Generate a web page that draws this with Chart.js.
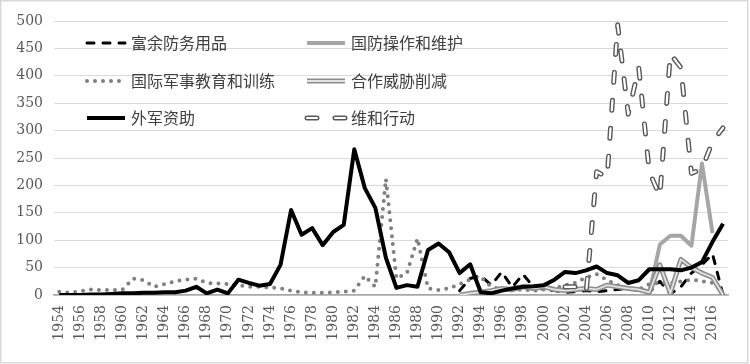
<!DOCTYPE html>
<html>
<head>
<meta charset="utf-8">
<script src="https://cdn.jsdelivr.net/npm/chart.js@4.4.1/dist/chart.umd.min.js"></script>
<style>
	html, body { margin: 0; padding: 0; background: #ffffff; }
	#wrap { width: 750px; height: 364px; }
</style>
</head>
<body>
<div id="wrap"><canvas id="aidChart" width="750" height="364"></canvas></div>
<script>
	// 年份 (x 轴类别)
	const years = [
		'1954','1955','1956','1957','1958','1959','1960','1961','1962','1963',
		'1964','1965','1966','1967','1968','1969','1970','1971','1972','1973',
		'1974','1975','1976','1977','1978','1979','1980','1981','1982','1983',
		'1984','1985','1986','1987','1988','1989','1990','1991','1992','1993',
		'1994','1995','1996','1997','1998','1999','2000','2001','2002','2003',
		'2004','2005','2006','2007','2008','2009','2010','2011','2012','2013',
		'2014','2015','2016','2017'
	];

	// 富余防务用品
	const edaValues = [
		null,null,null,null,null,null,null,null,null,null,
		null,null,null,null,null,null,null,null,null,null,
		null,null,null,null,null,null,null,null,null,null,
		null,null,null,null,null,null,null,null,8,30,
		35,18,42,14,38,15,10,8,5,6,
		8,6,8,10,12,8,5,25,2,15,
		40,55,75,0
	];

	// 国防操作和维护
	const omValues = [
		null,null,null,null,null,null,null,null,null,null,
		null,null,null,null,null,null,null,null,null,null,
		null,null,null,null,null,null,null,null,null,null,
		null,null,null,null,null,null,null,null,null,null,
		null,null,null,null,null,null,null,null,null,null,
		null,null,null,null,null,null,3,92,108,108,
		90,240,113,null
	];

	// 国际军事教育和训练
	const imetValues = [
		6,4,7,10,9,9,10,30,27,15,
		20,25,28,30,22,21,20,18,15,15,
		14,12,8,5,4,4,5,6,8,35,
		15,212,30,40,103,12,9,12,20,28,
		33,15,10,8,10,8,10,12,18,22,
		32,38,27,18,12,10,20,22,22,25,
		28,25,22,5
	];

	// 合作威胁削减
	const ctrValues = [
		null,null,null,null,null,null,null,null,null,null,
		null,null,null,null,null,null,null,null,null,null,
		null,null,null,null,null,null,null,null,null,null,
		null,null,null,null,null,null,null,null,0,3,
		5,8,12,10,15,12,15,10,8,10,
		12,10,18,15,12,10,5,55,3,65,
		50,40,32,0
	];

	// 外军资助
	const fmfValues = [
		0,0,0,1,1,2,3,3,4,4,
		5,5,8,15,3,10,3,28,22,17,
		20,55,155,110,122,91,115,128,266,195,
		159,68,13,18,15,82,94,78,40,56,
		5,3,8,12,15,16,18,28,42,40,
		45,52,40,36,22,27,47,47,47,45,
		50,60,97,130
	];

	// 维和行动
	const pkoValues = [
		null,null,null,null,null,null,null,null,null,null,
		null,null,null,null,null,null,null,null,null,null,
		null,null,null,null,null,null,null,null,null,null,
		null,null,null,null,null,null,null,null,null,null,
		null,null,null,null,null,null,null,null,15,15,
		3,225,215,493,330,415,225,180,440,415,
		222,230,280,305
	];

	// 线条样式
	const styles = {
		eda:  { color: '#000000', width: 3, dash: [7, 9], cap: 'round' },
		om:   { color: '#a6a6a6', width: 4, dash: [], cap: 'butt' },
		imet: { color: '#808080', width: 4, dash: [0, 8], cap: 'round' },
		ctr:  { color: '#8c8c8c', width: 5, dash: [], cap: 'butt', inner: { color: '#e2e2e2', width: 1.8 } },
		fmf:  { color: '#000000', width: 4, dash: [], cap: 'butt' },
		pko:  { color: '#595959', width: 5, dash: [10, 18], cap: 'round', inner: { color: '#ffffff', width: 2.2 } }
	};

	// 图例 (3 行 2 列, 在绘图区内)
	const legendItems = [
		{ text: '富余防务用品',       style: styles.eda,  col: 0, row: 0 },
		{ text: '国防操作和维护',     style: styles.om,   col: 1, row: 0 },
		{ text: '国际军事教育和训练', style: styles.imet, col: 0, row: 1 },
		{ text: '合作威胁削减',       style: styles.ctr,  col: 1, row: 1 },
		{ text: '外军资助',           style: styles.fmf,  col: 0, row: 2 },
		{ text: '维和行动',           style: styles.pko,  col: 1, row: 2 }
	];

	// 数据集生成
	function makeDataset(label, data, st, order, inner) {
		return {
			label: label,
			data: data,
			borderColor: inner ? st.inner.color : st.color,
			borderWidth: inner ? st.inner.width : st.width,
			borderDash: st.dash,
			borderCapStyle: st.cap,
			borderJoinStyle: 'round',
			pointRadius: 0,
			pointHoverRadius: 0,
			tension: 0,
			fill: false,
			spanGaps: false,
			order: order
		};
	}

	let datasets = [
		makeDataset('富余防务用品', edaValues, styles.eda, 6),
		makeDataset('国防操作和维护', omValues, styles.om, 5),
		makeDataset('国际军事教育和训练', imetValues, styles.imet, 4),
		makeDataset('合作威胁削减', ctrValues, styles.ctr, 3),
		makeDataset('合作威胁削减-内', ctrValues, styles.ctr, 2.9, true),
		makeDataset('外军资助', fmfValues, styles.fmf, 2),
		makeDataset('维和行动', pkoValues, styles.pko, 1),
		makeDataset('维和行动-内', pkoValues, styles.pko, 0.9, true)
	];

	// 图例样本线
	function drawSample(ctx, x1, x2, y, st) {
		ctx.save();
		ctx.beginPath();
		ctx.moveTo(x1, y);
		ctx.lineTo(x2, y);
		ctx.strokeStyle = st.color;
		ctx.lineWidth = st.width;
		ctx.lineCap = st.cap;
		ctx.setLineDash(st.dash);
		ctx.stroke();
		if (st.inner) {
			ctx.strokeStyle = st.inner.color;
			ctx.lineWidth = st.inner.width;
			ctx.stroke();
		}
		ctx.restore();
	}

	const insideLegend = {
		id: 'insideLegend',
		afterDatasetsDraw(chart) {
			let ctx = chart.ctx;
			let colX = [87, 307];
			let rowY = [43, 81, 118];
			legendItems.forEach(function(item) {
				let x = colX[item.col];
				let y = rowY[item.row];
				drawSample(ctx, x, x + 38, y, item.style);
				ctx.save();
				ctx.fillStyle = '#404040';
				ctx.font = '16px "Noto Sans CJK SC"';
				ctx.textBaseline = 'middle';
				ctx.textAlign = 'left';
				ctx.fillText(item.text, x + 44, y);
				ctx.restore();
			});
		}
	};

	// 外框
	const frameBorder = {
		id: 'frameBorder',
		afterDraw(chart) {
			let ctx = chart.ctx;
			ctx.save();
			ctx.strokeStyle = '#d9d9d9';
			ctx.lineWidth = 1.5;
			ctx.strokeRect(0.75, 0.75, 747, 362);
			ctx.restore();
		}
	};

	let ctx = document.getElementById('aidChart').getContext('2d');
	let aidChart = new Chart(ctx, {
		type: 'line',
		data: { labels: years, datasets: datasets },
		options: {
			responsive: false,
			animation: false,
			devicePixelRatio: 1,
			layout: { padding: { left: 0, right: 20, top: 21, bottom: 0 } },
			plugins: {
				legend: { display: false },
				tooltip: { enabled: false }
			},
			scales: {
				x: {
					offset: true,
					grid: { display: false, drawTicks: false },
					border: { display: true, color: '#a6a6a6', width: 1.5 },
					ticks: {
						autoSkip: false,
						maxRotation: 90,
						minRotation: 90,
						padding: 10,
						color: '#595959',
						font: { family: '"DejaVu Serif"', size: 14 },
						callback: function(value, index) {
							return index % 2 === 0 ? years[index] : '';
						}
					},
					afterFit: function(scale) { scale.height = 69; }
				},
				y: {
					min: 0,
					max: 500,
					grid: { color: '#d9d9d9', lineWidth: 1, drawTicks: false },
					border: { display: false },
					ticks: {
						stepSize: 50,
						padding: 11,
						color: '#595959',
						font: { family: '"DejaVu Serif"', size: 14 }
					},
					afterFit: function(scale) { scale.width = 54; }
				}
			}
		},
		plugins: [insideLegend, frameBorder]
	});
</script>
</body>
</html>
